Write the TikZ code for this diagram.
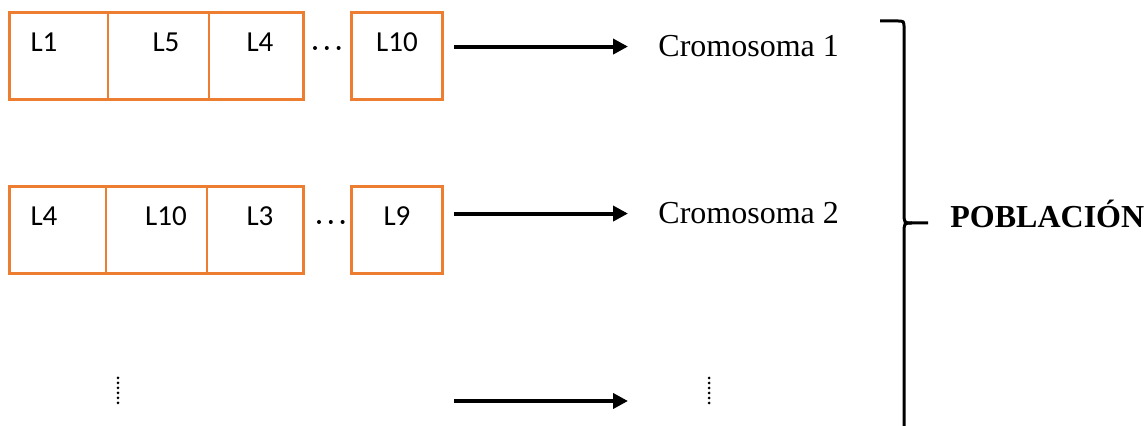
\documentclass[tikz,border=0pt]{standalone}
\usepackage{fontspec}
\setmainfont{Liberation Serif}
\newfontfamily\calibri{Carlito}
\usepackage{tikz}
\usetikzlibrary{arrows.meta}
\definecolor{naranja}{RGB}{237,125,49}
\tikzstyle{caja} = [rectangle,draw=naranja,line width=1.5pt,minimum height=43.5pt,inner sep=0pt,outer sep=0pt]
\tikzstyle{separador} = [draw=naranja,line width=0.65pt]
\tikzstyle{gen} = [anchor=base,inner sep=0pt,font=\calibri\fontsize{14.5}{17}\selectfont]
\tikzstyle{nombre} = [anchor=base west,inner sep=0pt,font=\fontsize{16}{19}\selectfont]
\tikzstyle{flecha} = [line width=2pt,-{Triangle[length=7.5pt,width=7.5pt]}]
\tikzstyle{vpuntos} = [line width=1.5pt,line cap=round,dash pattern=on 0pt off 2.5pt]
\tikzstyle{hpuntos} = [line width=2pt,line cap=round,dash pattern=on 0pt off 5.9pt]

\begin{document}
\begin{tikzpicture}[x=0.5pt,y=-0.5pt]
\useasboundingbox (0,0) rectangle (1145,426);

% 1 unidad = 0.5pt, eje y hacia abajo

\node (c1)  [caja,minimum width=147pt] at (156,56.5) {};
\node (c1e) [caja,minimum width=45.5pt] at (396.5,56.5) {};
\node (c2)  [caja,minimum width=147pt] at (156,230) {};
\node (c2e) [caja,minimum width=45.5pt] at (396.5,230) {};

\draw[separador] (c1.north west) ++(99,0) -- ++(0,87);
\draw[separador] (c1.north west) ++(200,0) -- ++(0,87);
\draw[separador] (c2.north west) ++(97,0) -- ++(0,87);
\draw[separador] (c2.north west) ++(198,0) -- ++(0,87);

\node (g11) [gen] at (44,52) {L1};
\node (g12) [gen] at (166,52) {L5};
\node (g13) [gen] at (260,52) {L4};
\node (g1n) [gen] at (397,52) {L10};

\node (g21) [gen] at (44,226) {L4};
\node (g22) [gen] at (166,226) {L10};
\node (g23) [gen] at (260,226) {L3};
\node (g2n) [gen] at (397,226) {L9};

\node (cr1) [nombre] at (658,57) {Cromosoma 1};
\node (cr2) [nombre] at (658,224) {Cromosoma 2};
\node (pob) [nombre,font=\bfseries\fontsize{16}{19}\selectfont] at (950,228) {POBLACIÓN};

% puntos suspensivos entre cajas
\draw[hpuntos] (315,48) -- (339,48);
\draw[hpuntos] (319,222) -- (343,222);

%\draw[vpuntos]: filas que siguen
\coordinate (v1a) at (118,378);
\coordinate (v1b) at (118,403);
\coordinate (v2a) at (709,378);
\coordinate (v2b) at (709,403);
\draw[vpuntos] (v1a) -- (v1b);
\draw[vpuntos] (v2a) -- (v2b);

\coordinate (f3a) at (454,401);
\coordinate (f3b) at (628,401);

\draw[flecha,shorten <=6pt,shorten >=15pt] (c1e.east |- cr1.west) -- (cr1.west);
\draw[flecha,shorten <=6pt,shorten >=15pt] (c2e.east |- cr2.west) -- (cr2.west);
\draw[flecha] (f3a) -- (f3b);

% llave
\draw[line width=1.5pt] (880,21) -- (897,21) .. controls (904,21) .. (904,28) -- (904,212)
  .. controls (904,223) .. (912,223) -- (928,223);
\draw[line width=1.5pt] (912,223) .. controls (904,223) .. (904,234) -- (904,426);

\end{tikzpicture}
\end{document}
